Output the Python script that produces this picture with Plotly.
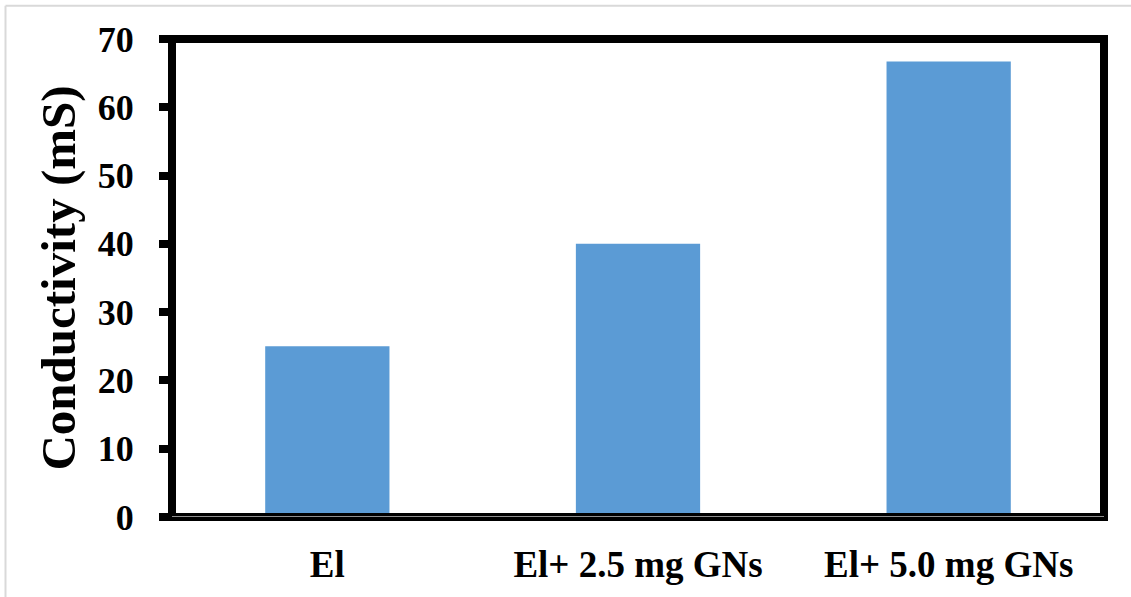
import plotly.graph_objects as go

# Conductivity of the electrolyte with graphene nanosheet (GNs) additions
categories = ["El", "El+ 2.5 mg GNs", "El+ 5.0 mg GNs"]
conductivity_ms = [25, 40, 66.7]
y_ticks = [0, 10, 20, 30, 40, 50, 60, 70]

BAR_COLOR = "#5B9BD5"
FONT = "Liberation Serif"

fig = go.Figure(
    go.Bar(
        x=categories,
        y=conductivity_ms,
        width=0.4,
        marker=dict(color=BAR_COLOR, line=dict(width=0)),
        hoverinfo="x+y",
    )
)

W, H = 1131, 597
L, R, T, B = 172, 27, 39, 77
pw, ph = W - L - R, H - T - B

def px_to_paper_x(px):
    return (px - L) / pw

def px_to_paper_y(py):
    return (H - B - py) / ph

shapes = [
    # light outer border (top and left edges)
    dict(type="line", xref="paper", yref="paper",
         x0=px_to_paper_x(5.5), x1=px_to_paper_x(W + 5),
         y0=px_to_paper_y(5.5), y1=px_to_paper_y(5.5),
         line=dict(color="#D9D9D9", width=2)),
    dict(type="line", xref="paper", yref="paper",
         x0=px_to_paper_x(5.5), x1=px_to_paper_x(5.5),
         y0=px_to_paper_y(5.5), y1=px_to_paper_y(H + 5),
         line=dict(color="#D9D9D9", width=2)),
    # heavy plot frame
    dict(type="rect", xref="paper", yref="paper", x0=0, x1=1, y0=0, y1=1,
         line=dict(color="black", width=8), layer="above"),
    # thin horizontal axis line at zero
    dict(type="line", xref="paper", yref="y", x0=0, x1=1, y0=0, y1=0,
         line=dict(color="#BFBFBF", width=1.5), layer="above"),
]

fig.update_layout(
    width=W, height=H,
    margin=dict(l=L, r=R, t=T, b=B, pad=0),
    paper_bgcolor="white",
    plot_bgcolor="white",
    showlegend=False,
    bargap=0.6,
    shapes=shapes,
    font=dict(family=FONT, color="black", size=36, weight="bold"),
    xaxis=dict(
        showgrid=False, zeroline=False, showline=False,
        ticks="", ticklabelstandoff=22,
        tickfont=dict(family=FONT, size=37, color="black", weight="bold"),
    ),
    yaxis=dict(
        range=[0, 70],
        tickvals=y_ticks,
        ticktext=[str(v) for v in y_ticks],
        showgrid=False, zeroline=False, showline=False,
        ticks="outside", ticklen=12, tickwidth=8, tickcolor="black",
        ticklabelstandoff=18,
        tickfont=dict(family=FONT, size=36, color="black", weight="bold"),
        title=dict(text="Conductivity (mS)", standoff=6,
                   font=dict(family=FONT, size=49, color="black", weight="bold")),
    ),
)

fig.write_html("out.html")
